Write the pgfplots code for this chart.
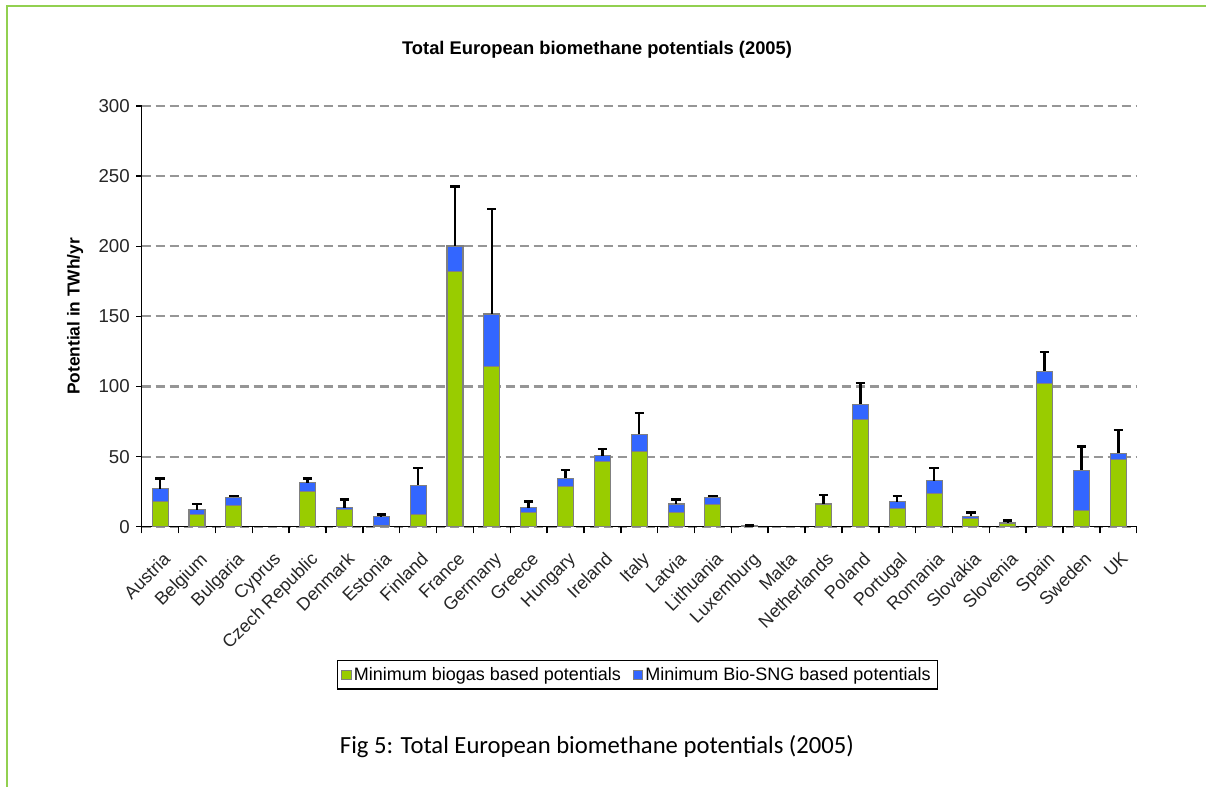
\documentclass[border=0pt]{standalone}
\usepackage{pgfplots}
\pgfplotsset{compat=1.18}
\usepackage{pgfplotstable}
\usepackage{fontspec}
\setmainfont{Liberation Sans}
\newfontfamily\calibri{Carlito}

\definecolor{biogas}{RGB}{153,204,0}
\definecolor{biosng}{RGB}{51,102,255}
\definecolor{barline}{RGB}{128,128,128}
\definecolor{gridgray}{RGB}{150,150,150}
\definecolor{framegreen}{RGB}{146,208,80}

% idx, biogas, bio-SNG, top of the range (TWh/yr)
\pgfplotstableread{
idx bio  sng  upper
0   18   9    34.5
1   9    3    16.2
2   15   6    22.1
3   0    0    0
4   25   6.5  34.5
5   12   1.6  19.5
6   1    6.2  8.6
7   9    20.7 42
8   182  18.2 242.5
9   114  37.7 226.4
10  10   3.6  17.9
11  28.5 6    40.4
12  46.4 4.3  55.4
13  53.5 12.6 81.3
14  10.2 6    19.5
15  16   5    21.9
16  0.5  0    1
17  0    0    0
18  15.8 0.4  22.6
19  76.6 10.7 102.3
20  13.1 4.8  22.1
21  23.8 9    42
22  6    1.6  10.2
23  2    0.9  4.3
24  102.3 8.7 124.8
25  11.9 28.5 57.1
26  48   4.3  69
}\potentials

\pgfplotsset{
  common/.style={
    scale only axis,
    width=746.25pt, height=315.5pt,
    xmin=-0.5, xmax=26.5,
    ymin=0, ymax=300,
  },
}

\begin{document}
\begin{tikzpicture}
\useasboundingbox (0,0) rectangle (904.5pt,590.25pt);
\fill[white] (0,0) rectangle (904.5pt,590.25pt);
\draw[framegreen, line width=1.5pt] (5.25pt,0) -- (5.25pt,585.75pt) -- (904.5pt,585.75pt);

\begin{axis}[
  common,
  at={(106.3pt,195.2pt)}, anchor=south west,
  ybar stacked, bar width=12pt,
  axis x line=bottom, axis y line=left,
  axis line style={-, line width=1.1pt, black},
  ytick={0,50,...,300},
  ymajorgrids,
  major grid style={gridgray, line width=1.6pt, dash pattern=on 7pt off 3.5pt},
  xtick={0,...,26},
  xticklabels={Austria,Belgium,Bulgaria,Cyprus,Czech Republic,Denmark,Estonia,Finland,France,Germany,Greece,Hungary,Ireland,Italy,Latvia,Lithuania,Luxemburg,Malta,Netherlands,Poland,Portugal,Romania,Slovakia,Slovenia,Spain,Sweden,UK},
  minor xtick={-0.5,0.5,...,26.5},
  tick align=outside,
  major x tick style={draw=none},
  minor x tick style={black, line width=1.1pt},
  major y tick style={black, line width=1.1pt},
  minor tick length=5pt, major tick length=4pt,
  /pgf/number format/assume math mode=true,
  yticklabel style={font=\fontsize{14}{16}\selectfont, text=black!85, xshift=-1.5pt},
  xticklabel style={font=\fontsize{13.5}{15}\selectfont, text=black!85, rotate=45, anchor=north east, inner sep=1pt, xshift=-8pt, yshift=-10pt},
  title={Total European biomethane potentials (2005)},
  title style={at={(rel axis cs:0.4576,1.114)}, anchor=center, font=\bfseries\fontsize{13.75}{16}\selectfont},
  ylabel={Potential in TWh/yr},
  every axis y label/.style={at={(rel axis cs:-0.067,0.5)}, rotate=90, anchor=center, font=\bfseries\fontsize{13}{15}\selectfont},
  legend columns=2,
  legend style={at={(rel axis cs:0.498,-0.352)}, anchor=center, draw=black, line width=1pt,
    font=\fontsize{13.5}{15}\selectfont, inner xsep=3pt, inner ysep=3pt,
    /tikz/every even column/.append style={column sep=7pt}},
  legend image code/.code={\fill[#1, draw=barline, line width=0.4pt] (0pt,-3.5pt) rectangle (7pt,3.5pt);},
]
\addplot[fill=biogas, draw=barline, line width=0.8pt] table[x=idx, y=bio] {\potentials};
\addplot[fill=biosng, draw=barline, line width=0.8pt] table[x=idx, y=sng] {\potentials};
\legend{Minimum biogas based potentials, Minimum Bio-SNG based potentials}
\end{axis}

% upper end of each range, drawn from the top of the stacked bar
\begin{axis}[
  common,
  at={(106.3pt,195.2pt)}, anchor=south west,
  hide axis,
]
\addplot[draw=none, mark=none,
  restrict expr to domain={\thisrow{upper}}{0.5:1000},
  error bars/.cd, y dir=plus, y explicit, error mark=|,
  error bar style={black, line width=1.8pt},
  error mark options={black, line width=1.8pt, mark size=3.5pt}]
  table[x=idx, y expr=\thisrow{bio}+\thisrow{sng}, y error expr=\thisrow{upper}-\thisrow{bio}-\thisrow{sng}] {\potentials};
\end{axis}

\node[font=\calibri\fontsize{18.5}{22}\selectfont] at (447.75pt,30pt) {Fig 5: Total European biomethane potentials (2005)};
\end{tikzpicture}
\end{document}
